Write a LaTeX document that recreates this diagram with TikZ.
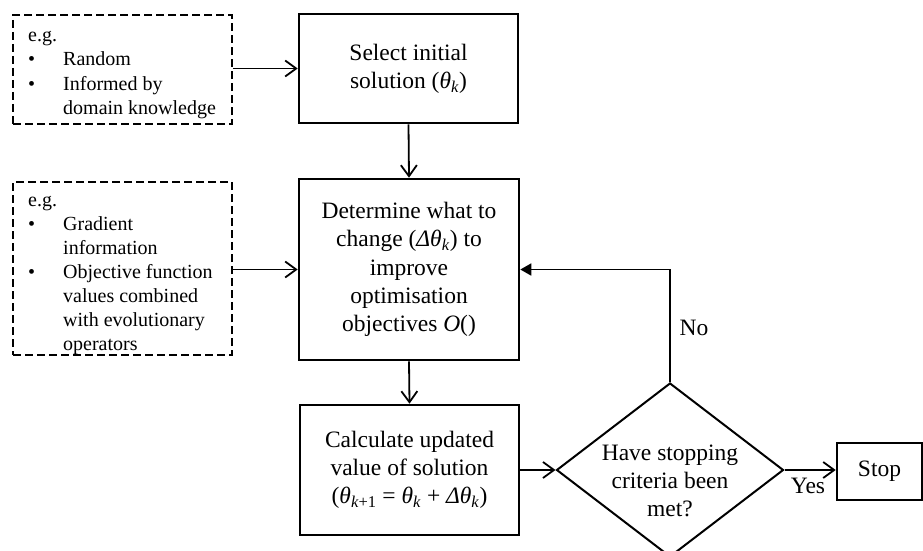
\documentclass[tikz,border=0pt]{standalone}
\usepackage{fontspec}
\setmainfont{Liberation Serif}
\usetikzlibrary{arrows.meta,shapes.geometric}

\newcommand{\bul}{\makebox[35pt][l]{\textbullet}}
\newcommand{\ind}{\hspace*{35pt}}
\newcommand{\thk}{\textit{θ}\textsubscript{\textit{k}}}

\begin{document}
\begin{tikzpicture}[x=1pt,y=-1pt,
  stepbox/.style={draw=black, line width=2.6pt, inner sep=0pt, align=center,
    font=\fontsize{23.5}{28.3}\selectfont},
  hintbox/.style={draw=black, line width=2.8pt, dash pattern=on 8pt off 4pt},
  hinttext/.style={anchor=base west, inner sep=0pt,
    font=\fontsize{20}{24}\selectfont},
  decision/.style={diamond, draw=black, line width=2pt, inner sep=0pt},
  flow/.style={line width=1.8pt, -{Straight Barb[length=11pt,width=16pt,line width=1.8pt]}},
  back/.style={line width=1.8pt, -{Triangle[length=11pt,width=12pt]}},
  lbl/.style={inner sep=0pt, font=\fontsize{23.5}{28}\selectfont}
]
\useasboundingbox (0,0) rectangle (923,551);

% hint boxes on the left
\node[hintbox, minimum width=219pt, minimum height=109pt] (hintA) at (122.5,69.5) {};
\node[hinttext] (hintAtext) at (28,42) {\begin{tabular}[t]{@{}l@{}}
e.g.\\
\bul Random\\
\bul Informed by\\
\ind domain knowledge
\end{tabular}};

\node[hintbox, minimum width=219pt, minimum height=173pt] (hintB) at (122.5,268.5) {};
\node[hinttext] (hintBtext) at (28,206) {\begin{tabular}[t]{@{}l@{}}
e.g.\\
\bul Gradient\\
\ind information\\
\bul Objective function\\
\ind values combined\\
\ind with evolutionary\\
\ind operators
\end{tabular}};

% process steps
\node[stepbox, minimum width=219pt, minimum height=109pt] (init) at (408.5,68.5)
  {Select initial\\solution (\thk)};
\node[stepbox, minimum width=220pt, minimum height=181pt] (change) at (409,269.5)
  {Determine what to\\change (\textit{Δθ}\textsubscript{\textit{k}}) to\\improve\\optimisation\\objectives \textit{O}()};
\node[stepbox, minimum width=219pt, minimum height=130pt] (update) at (409.5,470)
  {Calculate updated\\value of solution\\(\textit{θ}\textsubscript{\textit{k}+1} = \thk{} + \textit{Δθ}\textsubscript{\textit{k}})};

% stopping test
\node[decision, minimum width=227pt, minimum height=174pt] (test) at (670,470) {};
\node[inner sep=0pt, align=center, font=\fontsize{23.5}{28.3}\selectfont] (testtext) at (670,481)
  {Have stopping\\criteria been\\met?};

\node[stepbox, minimum width=85pt, minimum height=57pt] (stop) at (879.5,471.5) {Stop};

% connectors
\draw[flow] (hintA.east |- init.west) -- (init.west);
\draw[flow] (hintB.east |- change.west) -- (change.west);
\draw[flow] (init.south) -- (change.north);
\draw[flow] (change.south) -- (update.north);
\draw[flow] (update.east) -- (test.west);
\draw[flow] (test.east) -- (stop.west |- test.east);
\draw[back] (test.north) |- (change.east);

% branch labels
\node[lbl] (no) at (694,328) {No};
\node[lbl] (yes) at (808,486) {Yes};
\end{tikzpicture}
\end{document}
